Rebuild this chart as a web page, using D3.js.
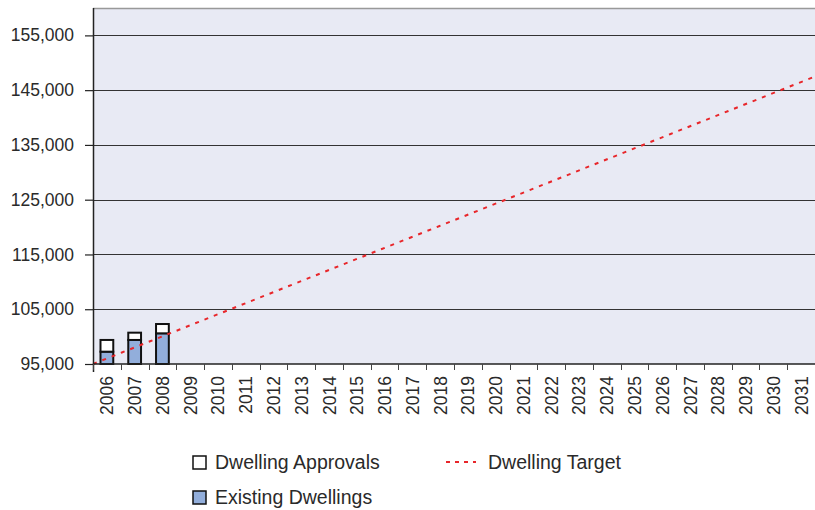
<!DOCTYPE html>
<html><head><meta charset="utf-8">
<script src="https://cdn.jsdelivr.net/npm/d3@7"></script>
<style>body{margin:0;background:#fff}svg{display:block}text{font-family:"Liberation Sans",Arial,sans-serif;fill:#2a2a2a}</style>
</head><body><svg id="c" width="815" height="510"></svg>
<script>
const years = ["2006","2007","2008","2009","2010","2011","2012","2013","2014","2015","2016","2017","2018","2019","2020","2021","2022","2023","2024","2025","2026","2027","2028","2029","2030","2031"];
const existingDwellings = [97250, 99390, 100600];
const dwellingApprovals = [2140, 1330, 1700];
const dwellingTarget = [95000,97100,99200,101300,103400,105500,107600,109700,111800,113900,116000,118100,120200,122300,124400,126500,128600,130700,132800,134900,137000,139100,141200,143300,145400,147500];
const yTicks = [95000,105000,115000,125000,135000,145000,155000];

const svg = d3.select("#c");
const L = 93, T = 8, R = 815, B = 364;
const W = R - L, H = B - T;
const g = svg.append("g").attr("transform", `translate(${L},${T})`);
const x = d3.scaleBand().domain(years).range([0, W]);
const xLine = d3.scalePoint().domain(years).range([0, W]);
const y = d3.scaleLinear().domain([95000, 160000]).range([H, 0]);

g.append("rect").attr("width", W).attr("height", H).attr("fill", "#e8eaf4");
g.append("line").attr("x1",0).attr("x2",W).attr("y1",0.5).attr("y2",0.5).attr("stroke","#999").attr("stroke-width",1.5);

// grid
g.selectAll(".grid").data(yTicks.slice(1)).join("line")
  .attr("x1", 0).attr("x2", W)
  .attr("y1", d => Math.round(y(d)) + 0.5).attr("y2", d => Math.round(y(d)) + 0.5)
  .attr("stroke", "#333").attr("stroke-width", 1.2);

// bars
const bw = x.bandwidth() * 0.46;
const bx = d => x(d) + (x.bandwidth() - bw) / 2;
g.selectAll(".ex").data(existingDwellings).join("rect")
  .attr("x", (d, i) => bx(years[i])).attr("width", bw)
  .attr("y", d => y(d)).attr("height", d => y(95000) - y(d))
  .attr("fill", "#92aedb").attr("stroke", "#111").attr("stroke-width", 2);
g.selectAll(".ap").data(dwellingApprovals).join("rect")
  .attr("x", (d, i) => bx(years[i])).attr("width", bw)
  .attr("y", (d, i) => y(existingDwellings[i] + d))
  .attr("height", (d, i) => y(existingDwellings[i]) - y(existingDwellings[i] + d))
  .attr("fill", "#fff").attr("stroke", "#111").attr("stroke-width", 2);

// target line
const line = d3.line().x((d, i) => xLine(years[i])).y(d => y(d));
g.append("path").datum(dwellingTarget).attr("d", line)
  .attr("fill", "none").attr("stroke", "#e8262a").attr("stroke-width", 2)
  .attr("stroke-dasharray", "4,6");

// y axis
const ya = g.append("g").call(d3.axisLeft(y).tickValues(yTicks).tickSize(8).tickPadding(11).tickFormat(d3.format(",")));
ya.select(".domain").remove();
ya.selectAll(".tick line").attr("stroke", "#222").attr("stroke-width", 1.2);
ya.selectAll("text").attr("font-size", 17.5).attr("fill", "#2a2a2a");
g.append("line").attr("x1",0.5).attr("x2",0.5).attr("y1",0).attr("y2",H+8).attr("stroke","#222").attr("stroke-width",1.5);

// x axis
const xa = g.append("g").attr("transform", `translate(0,${H})`);
xa.append("line").attr("x1",0).attr("x2",W).attr("y1",0).attr("y2",0).attr("stroke","#222").attr("stroke-width",1.5);
xa.selectAll(".xt").data(years).join("line")
  .attr("x1", d => Math.round(x(d)) + 0.5).attr("x2", d => Math.round(x(d)) + 0.5)
  .attr("y1", 0).attr("y2", 6).attr("stroke", "#444");
xa.selectAll(".xl").data(years).join("text")
  .attr("transform", d => `translate(${x(d) + x.bandwidth()/2 + 6.5},${12}) rotate(-90)`)
  .attr("text-anchor", "end").attr("font-size", 17.5).text(d => d);

// legend
const lg = svg.append("g");
lg.append("rect").attr("x",193).attr("y",456).attr("width",13).attr("height",13).attr("fill","#fff").attr("stroke","#111").attr("stroke-width",1.5);
lg.append("text").attr("x",215).attr("y",469).attr("font-size",19.5).text("Dwelling Approvals");
lg.append("rect").attr("x",193).attr("y",491).attr("width",13).attr("height",13).attr("fill","#92aedb").attr("stroke","#111").attr("stroke-width",1.5);
lg.append("text").attr("x",215).attr("y",504).attr("font-size",19.5).text("Existing Dwellings");
lg.append("line").attr("x1",446).attr("x2",476).attr("y1",462).attr("y2",462).attr("stroke","#e8262a").attr("stroke-width",2).attr("stroke-dasharray","4,5");
lg.append("text").attr("x",488).attr("y",469).attr("font-size",19.5).text("Dwelling Target");
</script></body></html>
